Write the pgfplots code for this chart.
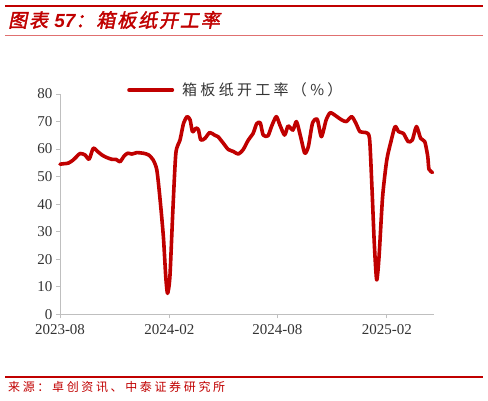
\documentclass[border=0pt]{standalone}
\usepackage{fontspec}
\usepackage{pgfplots}
\pgfplotsset{compat=1.18}
\setmainfont{Liberation Serif}
\newfontfamily\cjk[LetterSpace=22]{Noto Sans CJK SC}
\newfontfamily\cjktitle[FakeSlant=0.2,FakeBold=2,LetterSpace=10]{Noto Sans CJK SC}
\newfontfamily\latintitle{Liberation Sans}
\definecolor{zred}{HTML}{C00000}
\definecolor{lred}{HTML}{E07070}
\definecolor{axgray}{HTML}{BFBFBF}
\definecolor{txt}{HTML}{333333}

\begin{document}
\begin{tikzpicture}[x=1pt,y=1pt]
  \useasboundingbox (0,0) rectangle (488,400);
  % header and footer rules
  \draw[zred, line width=2.5pt] (5,394) -- (483,394);
  \draw[lred, line width=1.2pt] (5,364.5) -- (483,364.5);
  \draw[zred, line width=1.4pt] (5,23) -- (483,23);
  \node[anchor=west, inner sep=0pt, text=zred, font=\fontsize{19}{19}\selectfont] at (8,380)
    {\cjktitle 图表 {\latintitle\bfseries\itshape 57}：箱板纸开工率};
  \node[anchor=west, inner sep=0pt, text=zred, font=\fontsize{12}{12}\selectfont] at (8,13)
    {\cjk 来源：卓创资讯、中泰证券研究所};

  \begin{axis}[
      at={(60pt,85.7pt)}, anchor=south west,
      scale only axis,
      width=374.3pt, height=220.3pt,
      xmin=0, xmax=630,
      ymin=0, ymax=80,
      axis lines*=left,
      axis line style={draw=axgray, line width=0.8pt},
      xtick={0,184,366,550},
      xticklabels={2023-08,2024-02,2024-08,2025-02},
      ytick={0,10,...,80},
      tick style={draw=axgray, line width=0.8pt},
      tick align=outside,
      major tick length=4pt,
      ticklabel style={font=\fontsize{15}{15}\selectfont, text=txt},
      /pgf/number format/assume math mode=true,
      xticklabel style={yshift=-3pt},
      clip=false,
      legend style={at={(0.179,1.018)}, anchor=west, draw=none, fill=none,
        inner sep=0pt, font=\fontsize{15}{15}\selectfont, text=txt},
      legend image code/.code={\draw[zred, line width=4pt] (0pt,0pt) -- (43pt,0pt);},
    ]
    \addplot[zred, line width=3.6pt, smooth, tension=0.4, line join=round, line cap=round] coordinates {
      (0,54.5)(7,54.7)(14,54.9)(22,56)(29,57.5)(34,58.4)(42,57.9)(49,56.3)
      (56,60.3)(64,59)(71,57.8)(78,57)(87,56.3)(95,56.2)(101,55.4)(108,57.5)
      (114,58.5)(121,58.2)(129,58.7)(140,58.5)(149,57.9)(157,56)(163,52.4)
      (168,42.7)(174,28.2)(178,13.7)(181,7.6)(185,13.7)(190,37.9)(195,58.5)
      (202,63.3)(208,69.4)(214,71.8)(219,70.6)(223,66.3)(229,67.6)(233,67)
      (237,63.3)(244,63.9)(252,66)(260,65.1)(266,64.5)(275,62.1)(283,59.9)
      (292,59.1)(300,58.2)(308,59.7)(317,63.3)(325,65.7)(331,69.2)(337,69.6)
      (342,65.1)(350,64.8)(356,68.2)(364,71.8)(370,68.8)(378,65.1)(384,68.4)
      (392,66.9)(398,70)(405,64.5)(412,58.5)(418,60.9)(425,69.4)(433,70.8)
      (440,64.5)(448,70.6)(455,73.2)(466,71.8)(474,70.6)(482,70)(491,71.8)
      (498,69.4)(505,66.3)(515,66)(521,63.9)(525,46.4)(529,25.8)(533,12.5)
      (537,20.9)(543,42.7)(550,56)(557,62.7)(564,68.2)(570,66.3)(578,65.7)
      (586,62.7)(593,63.3)(600,68.2)(607,63.9)(614,62.7)(619,57.3)(621,52.7)
      (627,51.5)
    };
    \addlegendentry{\hspace{6pt}\cjk 箱板纸开工率（\%）}
  \end{axis}
\end{tikzpicture}
\end{document}
